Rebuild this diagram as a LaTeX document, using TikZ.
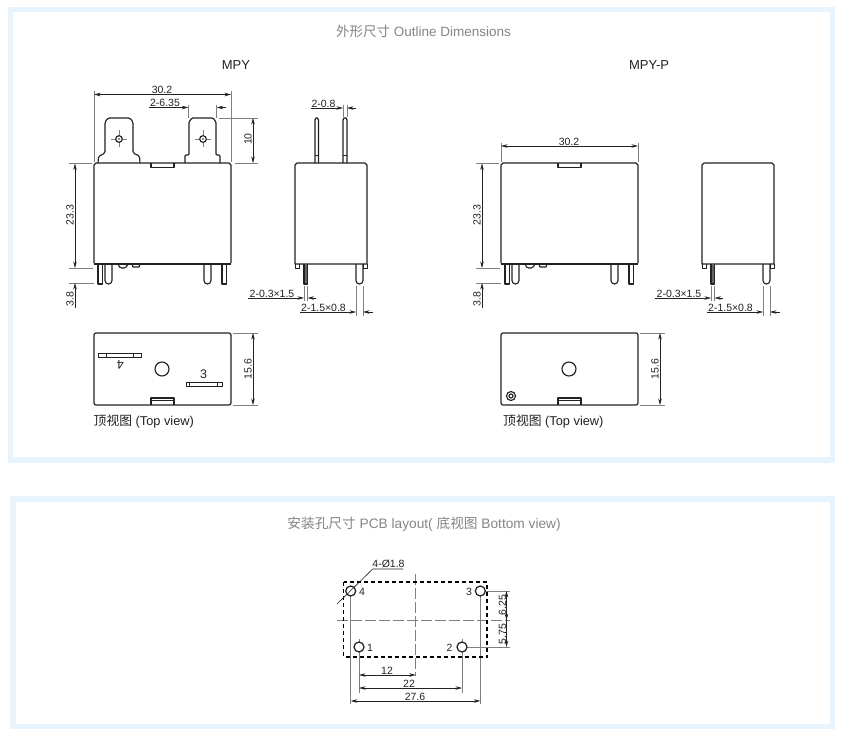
\documentclass[tikz,border=0pt]{standalone}
\usepackage{fontspec}
\setmainfont{Liberation Sans}
\newfontfamily\cjk{Noto Sans CJK SC}
\usetikzlibrary{arrows.meta}
\definecolor{panel}{HTML}{E8F4FD}
\definecolor{ttl}{HTML}{858585}
\definecolor{ext}{HTML}{808080}
\definecolor{ink}{HTML}{222222}
\tikzset{
  panelbox/.style={draw=panel,line width=5.5pt,fill=white},
  ol/.style={draw=ink,line width=1.15pt,line join=round},
  thin/.style={draw=ink,line width=0.85pt},
  extl/.style={draw=ext,line width=0.7pt},
  dim/.style={draw=ink,line width=0.55pt,{Stealth[length=6.5pt,width=3.5pt]}-{Stealth[length=6.5pt,width=3.5pt]}},
  dimend/.style={draw=ink,line width=0.55pt,-{Stealth[length=6.5pt,width=3.5pt]}},
  lead/.style={draw=ink,line width=0.6pt},
  lab/.style={font=\fontsize{10.5}{12}\selectfont,text=ink,inner sep=0pt},
  vlab/.style={lab,rotate=90},
  ttlb/.style={font=\fontsize{13.5}{15}\selectfont,text=ttl,inner sep=0pt},
  ttlc/.style={font=\fontsize{13.7}{15}\selectfont,text=ttl,inner sep=0pt},
  head/.style={font=\fontsize{13}{15}\selectfont,text=ink,inner sep=0pt},
  capt/.style={font=\fontsize{12.8}{15}\selectfont,text=ink,inner sep=0pt,anchor=west},
  cross/.style={draw=ext,line width=0.6pt},
  center/.style={draw=ext,line width=0.7pt,dash pattern=on 11pt off 3pt},
  pcbout/.style={draw=black,line width=1.4pt,dash pattern=on 4pt off 3pt},
  hole/.style={draw=ink,line width=1.15pt},
}
\newcommand{\frontbody}{
  \draw[ol] (94,263) -- (94,165) -- (96,163) -- (229,163) -- (231,165) -- (231,263);
  \draw[ol] (94,264) -- (231,264);
  \draw[ol] (151,163) -- (151,167.5) -- (174,167.5) -- (174,163);
  \draw[ol] (98,264) -- (98,284) -- (102.5,284) -- (102.5,264);
  \draw[ol] (105,264) -- (105,280.5) arc[start angle=180,end angle=0,radius=3.5] -- (112,264);
  \draw[ol] (118,264) .. controls (119,267) and (120,268) .. (122,268) -- (124,268) .. controls (126,268) and (127,266) .. (128,264);
  \draw[ol] (132,264) -- (133,267) -- (139,267) -- (140,264);
  \draw[ol] (204,264) -- (204,280.5) arc[start angle=180,end angle=0,radius=3.5] -- (211,264);
  \draw[ol] (222,264) -- (222,284) -- (226.5,284) -- (226.5,264);
  \draw[extl] (69,163) -- (92,163);
  \draw[extl] (69,268) -- (93,268);
  \draw[extl] (69,283) -- (94,283);
  \draw[dim] (75,163.5) -- (75,268);
  \draw[dimend] (75,308) -- (75,283);
  \node[vlab] (d233) at (70,215) {23.3};
  \node[vlab] (d38) at (70,299) {3.8};
}
\newcommand{\sidebody}{
  \draw[ol] (295,264) -- (295,165) -- (297,163) -- (365,163) -- (367,165) -- (367,264) -- cycle;
  \draw[thin] (295,264) -- (295,268) -- (299,268) -- (299,264);
  \draw[thin] (363,264) -- (363,268) -- (367,268) -- (367,264);
  \draw[ol,fill=ink!70] (304,264) -- (304,284) -- (307.5,284) -- (307.5,264);
  \draw[ol] (356,264) -- (356,280.5) arc[start angle=180,end angle=0,radius=3.5] -- (363,264);
  \draw[extl] (304,286) -- (304,301);
  \draw[extl] (307.5,286) -- (307.5,301);
  \draw[extl] (356,286) -- (356,316);
  \draw[extl] (363,286) -- (363,316);
  \draw[lead] (248,298) -- (296,298);
  \draw[dimend] (296,298) -- (304,298);
  \draw[dimend] (316,298) -- (307.5,298);
  \draw[lead] (300,312) -- (347,312);
  \draw[dimend] (347,312) -- (356,312);
  \draw[dimend] (373,312) -- (363,312);
  \node[lab] (d03) at (272,293.5) {2-0.3×1.5};
  \node[lab] (d15) at (323.5,307.5) {2-1.5×0.8};
}
\newcommand{\topbody}{
  \draw[ol,rounded corners=2pt] (94,333) rectangle (231,405);
  \draw[ol] (151,405) -- (151,398) -- (174,398) -- (174,405);
  \draw[thin] (151,400.5) -- (174,400.5);
  \draw[ol] (162,369) circle[radius=7];
  \draw[extl] (233,333) -- (258,333);
  \draw[extl] (233,405) -- (258,405);
  \draw[dim] (253,333) -- (253,405);
  \node[vlab] (d156) at (248,369) {15.6};
}
\begin{document}
\begin{tikzpicture}[x=1pt,y=-1pt]
\useasboundingbox (0,0) rectangle (847,739);
\fill[white] (0,0) rectangle (847,739);
\draw[panelbox] (10.5,9.5) rectangle (832.5,460);
\draw[panelbox] (13,499) rectangle (832.5,726.5);

\node[ttlb] (title1) at (423.5,31.5) {{\cjk 外形尺寸} Outline Dimensions};
\node[head] (mpy) at (236,65) {MPY};
\node[head] (mpyp) at (649,65) {MPY-P};

\begin{scope}[name prefix=a-]
\frontbody
\sidebody
\topbody
\end{scope}
\draw[extl] (94,91) -- (94,162);
\draw[extl] (231,91) -- (231,162);
\draw[dim] (94,94.5) -- (231,94.5);
\node[lab] (w302) at (162,90) {30.2};
\draw[lead] (149,107.5) -- (180,107.5);
\draw[dimend] (180,107.5) -- (188.3,107.5);
\draw[dimend] (226,107.5) -- (216.7,107.5);
\draw[extl] (188.3,105) -- (188.3,118);
\draw[extl] (216.7,105) -- (216.7,118);
\node[lab] (w635) at (165,103) {2-6.35};
\draw[extl] (219,118) -- (258,118);
\draw[extl] (235,163) -- (258,163);
\draw[dim] (253,118) -- (253,163);
\node[vlab] (h10) at (248,139) {10};
% terminals
\draw[ol,rounded corners=1.5pt] (98,163) -- (98.5,156.5) -- (105,153) -- (105,122) -- (108,118) -- (130,118) -- (133,122) -- (133,153) -- (139.5,156) -- (140,163);
\draw[ol,rounded corners=1pt] (185,163) -- (185,155) -- (189,155) -- (189,122) -- (192,118) -- (213,118) -- (216,122) -- (216,155) -- (220,155) -- (220,163);
\draw[cross] (119,130) -- (119,147) (111,139) -- (127,139);
\draw[cross] (203,130) -- (203,147) (195,139) -- (211,139);
\draw[hole,fill=white] (119,139) circle[radius=3.3];
\draw[hole,fill=white] (203,139) circle[radius=3.3];
\fill[ink] (119,139) circle[radius=0.8];
\fill[ink] (203,139) circle[radius=0.8];
% side terminals
\draw[ol] (315,163) -- (315,120) -- (316,118) -- (317.5,118) -- (318.5,120) -- (318.5,163);
\draw[ol] (343,163) -- (343,120) -- (344,118) -- (346,118) -- (347,120) -- (347,163);
\draw[thin] (315,155) -- (318.5,155) (343,155) -- (347,155);
\draw[lead] (311,108) -- (335,108);
\draw[dimend] (335,108) -- (343,108);
\draw[dimend] (356,108) -- (347,108);
\draw[extl] (343,105) -- (343,117);
\draw[extl] (347,105) -- (347,117);
\node[lab] (w08) at (323.5,103.5) {2-0.8};
% top view marks
\draw[thin] (98,353) rectangle (141,357);
\draw[thin] (106,353) -- (106,357) (133,353) -- (133,357);
\draw[thin] (186,382) rectangle (222,386);
\draw[thin] (189,382) -- (189,386) (217,382) -- (217,386);
\node[font=\fontsize{12.5}{14}\selectfont,text=ink,inner sep=0pt,rotate=180] (p4) at (120.5,365) {4};
\node[font=\fontsize{12.5}{14}\selectfont,text=ink,inner sep=0pt] (p3) at (203.5,374.5) {3};
\node[capt] (cap1) at (93.5,421.5) {{\cjk 顶视图} (Top view)};

\begin{scope}[xshift=407pt,name prefix=b-]
\frontbody
\sidebody
\topbody
\end{scope}
\draw[extl] (501,143) -- (501,162);
\draw[extl] (638,143) -- (638,162);
\draw[dim] (501,146) -- (638,146);
\node[lab] (w302b) at (569,142) {30.2};
\draw[ol] (511,396) circle[radius=4.5];
\draw[ol] (511,396) circle[radius=2];
\node[capt] (cap2) at (503,421.5) {{\cjk 顶视图} (Top view)};

% PCB layout
\node[ttlc] (title2) at (424,524.5) {{\cjk 安装孔尺寸} PCB layout( {\cjk 底视图} Bottom view)};
\draw[center] (337,620) -- (510,620);
\draw[center] (415.7,574) -- (415.7,676);
\draw[extl] (350.7,596) -- (350.7,704);
\draw[extl] (480.3,596) -- (480.3,704);
\draw[extl] (359,652) -- (359,693);
\draw[extl] (462,652) -- (462,693);
\draw[extl] (485,591) -- (510,591);
\draw[extl] (467,647) -- (510,647);
\draw[extl] (359,639) -- (359,642) (462,639) -- (462,642);
\draw[pcbout] (343.5,582) rectangle (487,657);
\foreach \n/\x/\y in {h4/350.7/591,h3/480.3/591,h1/359/647,h2/462/647}{
  \node[circle,draw=ink,line width=1.25pt,fill=white,minimum size=10pt,inner sep=0pt] (\n) at (\x,\y) {};
}
\draw[dim] (506.5,591) -- (506.5,647);
\draw[dimend] (506.5,606) -- (506.5,620);
\node[vlab] (d625) at (502.5,605) {6.25};
\node[vlab] (d575) at (502.5,634) {5.75};
\draw[dim] (359,675) -- (415.7,675);
\draw[dim] (359,688) -- (462,688);
\draw[dim] (350.7,701) -- (480.3,701);
\node[lab] (d12) at (387,671) {12};
\node[lab] (d22) at (409,684) {22};
\node[lab] (d276) at (415,697) {27.6};
\draw[lead] (337,604) -- (372.7,569) -- (403,569);
\node[lab] (hd) at (388.5,563.5) {4-Ø1.8};
\node[lab] (n4) at (362,592) {4};
\node[lab] (n3) at (469,592) {3};
\node[lab] (n1) at (370,648) {1};
\node[lab] (n2) at (449.5,648) {2};
\end{tikzpicture}
\end{document}
